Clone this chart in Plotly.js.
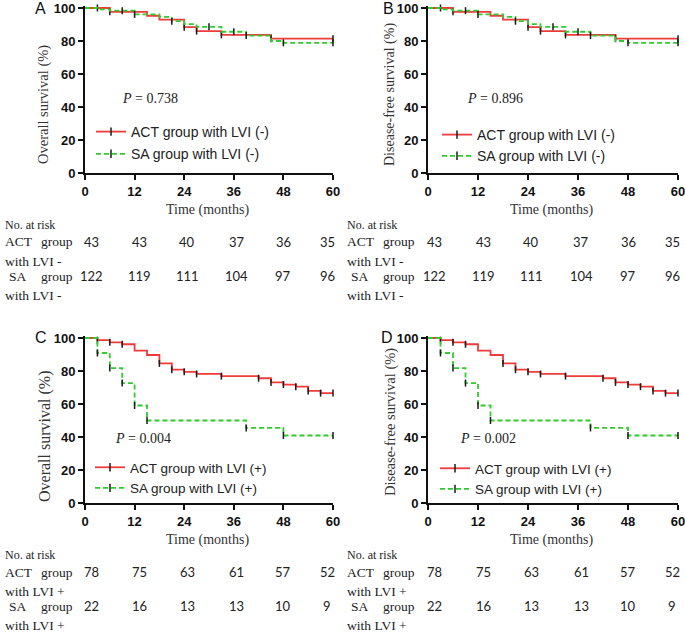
<!DOCTYPE html>
<html>
<head>
<meta charset="utf-8">
<script src="https://cdn.plot.ly/plotly-3.0.1.min.js"></script>
<style>
html, body { margin: 0; padding: 0; background: #fff; }
#plot { width: 685px; height: 642px; }
</style>
</head>
<body>
<div id="plot"></div>
<script>
// times (months) used for axis ticks and the at-risk table
var riskTimes = [0, 12, 24, 36, 48, 60];

// A: overall survival, LVI (-)
var actA_t = [0, 6, 15, 18, 24, 27, 33, 45, 60];
var actA_s = [100, 97.7, 95.3, 93.0, 88.4, 86.0, 83.7, 81.4, 81.4];
var actA_cens = [3, 6, 24, 27, 33, 45, 60];
var saA_t = [0, 3, 6, 12, 18, 21, 24, 27, 33, 39, 45, 48, 60];
var saA_s = [100, 99.2, 98.4, 96.1, 94.6, 92.0, 90.2, 88.6, 85.6, 83.3, 80.0, 78.9, 78.9];
var saA_cens = [9, 12, 21, 30, 36, 39, 48, 60];

// B: disease-free survival, LVI (-)
var actB_t = [0, 6, 15, 18, 24, 27, 33, 45, 60];
var actB_s = [100, 97.7, 95.3, 93.0, 88.4, 86.0, 83.7, 81.4, 81.4];
var actB_cens = [3, 6, 24, 27, 33, 45, 60];
var saB_t = [0, 3, 6, 12, 18, 21, 24, 27, 33, 39, 45, 48, 60];
var saB_s = [100, 99.2, 98.4, 96.1, 94.6, 92.0, 90.2, 88.6, 85.6, 83.3, 80.0, 78.9, 78.9];
var saB_cens = [9, 12, 21, 30, 36, 39, 48, 60];

// C: overall survival, LVI (+)
var actC_t = [0, 3, 6, 9, 12, 15, 18, 21, 24, 27, 33, 42, 45, 48, 51, 54, 57, 60];
var actC_s = [100, 98.7, 97.4, 96.2, 92.3, 89.7, 84.6, 80.8, 79.5, 78.2, 76.9, 75.6, 73.1, 71.8, 70.5, 67.9, 66.6, 66.6];
var actC_cens = [3, 6, 9, 18, 21, 24, 27, 33, 42, 45, 48, 51, 54, 57, 60];
var saC_t = [0, 3, 6, 9, 12, 15, 39, 48, 60];
var saC_s = [100, 90.9, 81.8, 72.7, 59.1, 50.0, 45.5, 40.9, 40.9];
var saC_cens = [3, 6, 9, 12, 15, 39, 48, 60];

// D: disease-free survival, LVI (+)
var actD_t = [0, 3, 6, 9, 12, 15, 18, 21, 24, 27, 33, 42, 45, 48, 51, 54, 57, 60];
var actD_s = [100, 98.7, 97.4, 96.2, 92.3, 89.7, 84.6, 80.8, 79.5, 78.2, 76.9, 75.6, 73.1, 71.8, 70.5, 67.9, 66.6, 66.6];
var actD_cens = [3, 6, 9, 18, 21, 24, 27, 33, 42, 45, 48, 51, 54, 57, 60];
var saD_t = [0, 3, 6, 9, 12, 15, 39, 48, 60];
var saD_s = [100, 90.9, 81.8, 72.7, 59.1, 50.0, 45.5, 40.9, 40.9];
var saD_cens = [3, 6, 9, 12, 15, 39, 48, 60];

// numbers at risk
var riskA_act = [43, 43, 40, 37, 36, 35];
var riskA_sa = [122, 119, 111, 104, 97, 96];
var riskB_act = [43, 43, 40, 37, 36, 35];
var riskB_sa = [122, 119, 111, 104, 97, 96];
var riskC_act = [78, 75, 63, 61, 57, 52];
var riskC_sa = [22, 16, 13, 13, 10, 9];
var riskD_act = [78, 75, 63, 61, 57, 52];
var riskD_sa = [22, 16, 13, 13, 10, 9];

var pValues = ['0.738', '0.896', '0.004', '0.002'];

var RED = '#ee3b3b', GREEN = '#2ecc2e', INK = '#1a1a1a';
var W = 685, H = 642;
function px(x) { return x / W; }
function py(y) { return 1 - y / H; }

function stepAt(ts, ss, t) {
  var v = ss[0];
  for (var i = 0; i < ts.length; i++) if (ts[i] <= t) v = ss[i];
  return v;
}

var panels = [
  {n: '', letter: 'A', ytitle: 'Overall survival (%)', sign: '-',
   act: [actA_t, actA_s, actA_cens], sa: [saA_t, saA_s, saA_cens], risk: [riskA_act, riskA_sa],
   x0: 85, x1: 333, yTop: 8, yBot: 173, letterPos: [40, 8], ytPos: [44, 105, 14.5],
   pPos: [120, 98], leg: [91, 116, 14, 1], dx: 0, dy: 0},
  {n: '2', letter: 'B', ytitle: 'Disease-free survival (%)', sign: '-',
   act: [actB_t, actB_s, actB_cens], sa: [saB_t, saB_s, saB_cens], risk: [riskB_act, riskB_sa],
   x0: 428, x1: 678, yTop: 8, yBot: 173, letterPos: [388, 8], ytPos: [390, 95, 14],
   pPos: [465, 98], leg: [437, 119, 14, 0], dx: 342, dy: 0},
  {n: '3', letter: 'C', ytitle: 'Overall survival (%)', sign: '+',
   act: [actC_t, actC_s, actC_cens], sa: [saC_t, saC_s, saC_cens], risk: [riskC_act, riskC_sa],
   x0: 85, x1: 333, yTop: 338, yBot: 503, letterPos: [41, 338], ytPos: [45, 436, 16],
   pPos: [113, 438], leg: [90, 452, 13.5, 0], dx: 0, dy: 330},
  {n: '4', letter: 'D', ytitle: 'Disease-free survival (%)', sign: '+',
   act: [actD_t, actD_s, actD_cens], sa: [saD_t, saD_s, saD_cens], risk: [riskD_act, riskD_sa],
   x0: 428, x1: 678, yTop: 338, yBot: 503, letterPos: [387, 338], ytPos: [390, 422, 14.5],
   pPos: [458, 438], leg: [435, 453, 13.5, 0], dx: 342, dy: 330}
];

var serif = 'Liberation Serif, Times New Roman, serif';
var sans = 'Liberation Sans, Arial, sans-serif';
var riskShift = [6, 5, 3, 3, 0, -6];

var data = [];
var annotations = [];
var layout = {
  width: W, height: H, autosize: false,
  margin: {l: 0, r: 0, t: 0, b: 0},
  paper_bgcolor: '#fff', plot_bgcolor: '#fff',
  showlegend: true,
  annotations: annotations
};

panels.forEach(function (p, k) {
  var xa = 'x' + p.n, ya = 'y' + p.n, lg = 'legend' + p.n;
  var groups = [
    {name: 'ACT group with LVI (' + p.sign + ')', c: p.act, color: RED, dash: 'solid'},
    {name: 'SA group with LVI (' + p.sign + ')', c: p.sa, color: GREEN, dash: '5px,3px'}
  ];
  groups.forEach(function (g, j) {
    data.push({
      x: g.c[0], y: g.c[1], xaxis: xa, yaxis: ya, mode: 'lines',
      line: {shape: 'hv', color: g.color, width: 1.8, dash: g.dash},
      showlegend: false, hoverinfo: 'skip'
    });
    data.push({
      x: g.c[2], y: g.c[2].map(function (t) { return stepAt(g.c[0], g.c[1], t); }),
      xaxis: xa, yaxis: ya, mode: 'markers', cliponaxis: false,
      marker: {symbol: 'line-ns', size: 5, line: {color: INK, width: 1.5}},
      showlegend: false, hoverinfo: 'skip'
    });
    // legend entry: line with censor tick
    data.push({
      x: [null], y: [null], xaxis: xa, yaxis: ya, mode: 'lines+markers',
      name: g.name, legend: lg, legendgroup: lg + '_' + j,
      line: {color: g.color, width: 1.8, dash: g.dash},
      marker: {symbol: 'line-ns', size: 6, color: INK, line: {color: INK, width: 1.5}}
    });
  });

  var axisCommon = {
    showline: true, linecolor: '#111', linewidth: 2, mirror: false,
    ticks: 'outside', ticklen: 5, tickwidth: 2, tickcolor: '#111',
    showgrid: false, zeroline: false, fixedrange: true, ticklabeloverflow: 'allow',
    tickfont: {family: sans, size: 13, color: '#111', weight: 'bold'}
  };
  layout['xaxis' + p.n] = Object.assign({}, axisCommon, {
    domain: [px(p.x0), px(p.x1)], anchor: ya, range: [0, 60],
    tickvals: riskTimes
  });
  var yTop101 = p.yBot - (p.yBot - p.yTop) * 1.01;
  layout['yaxis' + p.n] = Object.assign({}, axisCommon, {
    domain: [py(p.yBot), py(yTop101)], anchor: xa, range: [0, 101],
    tickvals: [0, 20, 40, 60, 80, 100]
  });
  layout[lg] = {
    x: px(p.leg[0]), y: py(p.leg[1]), xanchor: 'left', yanchor: 'top',
    bgcolor: 'rgba(0,0,0,0)', borderwidth: 0,
    font: {family: sans, size: p.leg[2], color: '#222'},
    traceorder: 'grouped', tracegroupgap: p.leg[3]
  };

  function ann(o) {
    annotations.push(Object.assign({showarrow: false, xref: 'paper', yref: 'paper'}, o));
  }
  // panel letter
  ann({x: px(p.letterPos[0]), y: py(p.letterPos[1]), text: p.letter,
       font: {family: sans, size: 16, color: '#111'}, xanchor: 'center', yanchor: 'middle'});
  // y title
  ann({x: px(p.ytPos[0]), y: py(p.ytPos[1]), text: p.ytitle, textangle: -90,
       font: {family: serif, size: p.ytPos[2], color: '#333'}, xanchor: 'center', yanchor: 'middle'});
  // x title
  ann({x: px((p.x0 + p.x1) / 2 - 2), y: py(p.yBot + 37), text: 'Time (months)',
       font: {family: serif, size: 14, color: '#333'}, xanchor: 'center', yanchor: 'middle'});
  // P value
  ann({x: px(p.pPos[0]), y: py(p.pPos[1]), text: '<i>P</i> = ' + pValues[k],
       font: {family: serif, size: 14, color: '#222'}, xanchor: 'left', yanchor: 'middle'});

  // at-risk table
  var tf = {family: serif, size: 13.5, color: '#222'};
  var dx = p.dx, dy = p.dy;
  ann({x: px(3 + dx), y: py(225 + dy), text: 'No. at risk', font: {family: serif, size: 12, color: '#222'},
       xanchor: 'left', yanchor: 'middle'});
  ann({x: px(3 + dx), y: py(242 + dy), text: 'ACT', font: tf, xanchor: 'left', yanchor: 'middle'});
  ann({x: px(75 + dx), y: py(242 + dy), text: 'group', font: tf, xanchor: 'right', yanchor: 'middle'});
  ann({x: px(3 + dx), y: py(261 + dy), text: 'with LVI ' + p.sign, font: tf, xanchor: 'left', yanchor: 'middle'});
  ann({x: px(7 + dx), y: py(276 + dy), text: 'SA', font: tf, xanchor: 'left', yanchor: 'middle'});
  ann({x: px(75 + dx), y: py(276 + dy), text: 'group', font: tf, xanchor: 'right', yanchor: 'middle'});
  ann({x: px(3 + dx), y: py(295 + dy), text: 'with LVI ' + p.sign, font: tf, xanchor: 'left', yanchor: 'middle'});
  var nf = {family: 'Lato, Open Sans, sans-serif', size: 13, color: '#222'};
  [[p.risk[0], 242], [p.risk[1], 276]].forEach(function (row) {
    row[0].forEach(function (v, i) {
      annotations.push({showarrow: false, xref: xa, yref: 'paper', x: riskTimes[i], y: py(row[1] + dy),
        xshift: riskShift[i], text: String(v), font: nf, xanchor: 'center', yanchor: 'middle'});
    });
  });
});

Plotly.newPlot('plot', data, layout, {displayModeBar: false, staticPlot: true});
</script>
</body>
</html>
